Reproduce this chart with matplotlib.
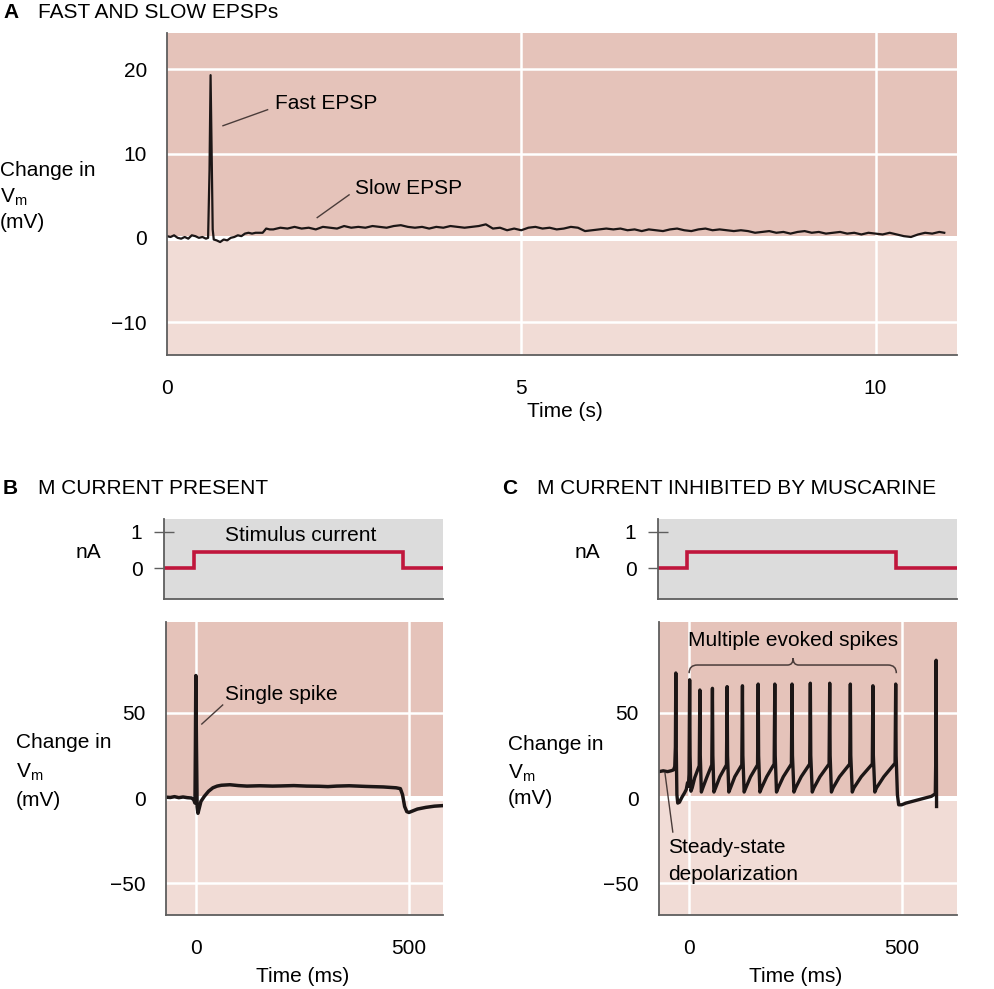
import matplotlib
matplotlib.use("Agg")
import matplotlib.pyplot as plt
from matplotlib.path import Path
from matplotlib.patches import PathPatch
import matplotlib.transforms as mtransforms

plt.rcParams['font.family'] = ['Liberation Sans', 'DejaVu Sans']
plt.rcParams['mathtext.fontset'] = 'custom'
plt.rcParams['mathtext.rm'] = 'Liberation Sans'
plt.rcParams['mathtext.it'] = 'Liberation Sans:italic'

# ---------------- data ----------------
# Panel A: fast and slow EPSP (time in s, change in Vm in mV)
a_time = [0.00, 0.05, 0.10, 0.15, 0.20, 0.25, 0.30, 0.35, 0.40, 0.45, 0.50, 0.55,
          0.58, 0.60, 0.615, 0.63, 0.645, 0.66, 0.70, 0.75, 0.80, 0.85, 0.90, 0.95,
          1.00, 1.05, 1.10, 1.15, 1.20, 1.25, 1.30, 1.35, 1.40, 1.45,
          1.5, 1.6, 1.7, 1.8, 1.9, 2.0, 2.1, 2.2, 2.3, 2.4, 2.5, 2.6, 2.7, 2.8, 2.9,
          3.0, 3.1, 3.2, 3.3, 3.4, 3.5, 3.6, 3.7, 3.8, 3.9, 4.0, 4.1, 4.2, 4.3, 4.4,
          4.5, 4.6, 4.7, 4.8, 4.9, 5.0, 5.1, 5.2, 5.3, 5.4, 5.5, 5.6, 5.7, 5.8, 5.9,
          6.0, 6.1, 6.2, 6.3, 6.4, 6.5, 6.6, 6.7, 6.8, 6.9, 7.0, 7.1, 7.2, 7.3, 7.4,
          7.5, 7.6, 7.7, 7.8, 7.9, 8.0, 8.1, 8.2, 8.3, 8.4, 8.5, 8.6, 8.7, 8.8, 8.9,
          9.0, 9.1, 9.2, 9.3, 9.4, 9.5, 9.6, 9.7, 9.8, 9.9, 10.0, 10.1, 10.2, 10.3,
          10.4, 10.5, 10.6, 10.7, 10.8, 10.9, 10.97]
a_vm = [0.2, 0.1, 0.3, 0.0, -0.1, 0.1, -0.1, 0.3, 0.2, 0.0, 0.1, -0.1,
        0.0, 8.0, 19.3, 10.0, 1.0, -0.2, -0.3, -0.5, -0.2, -0.3, 0.0, 0.1,
        0.3, 0.2, 0.5, 0.6, 0.5, 0.6, 0.6, 0.6, 1.1, 1.0,
        1.0, 1.2, 1.1, 1.3, 1.1, 1.2, 1.0, 1.3, 1.2, 1.1, 1.4, 1.2, 1.3, 1.2, 1.4,
        1.3, 1.2, 1.4, 1.5, 1.3, 1.2, 1.3, 1.1, 1.3, 1.2, 1.4, 1.3, 1.2, 1.3, 1.4,
        1.6, 1.1, 1.2, 0.9, 1.1, 0.9, 1.2, 1.3, 1.1, 1.2, 1.0, 1.1, 1.3, 1.2, 0.8,
        0.9, 1.0, 1.1, 1.0, 1.1, 0.9, 1.0, 0.8, 1.0, 0.9, 0.8, 1.0, 1.1, 0.9, 0.8,
        1.0, 1.1, 0.9, 1.0, 0.9, 0.8, 0.9, 0.8, 0.6, 0.7, 0.8, 0.6, 0.7, 0.5, 0.7,
        0.8, 0.6, 0.7, 0.5, 0.6, 0.7, 0.5, 0.6, 0.4, 0.6, 0.5, 0.4, 0.6, 0.4,
        0.2, 0.1, 0.4, 0.6, 0.5, 0.7, 0.6]

# Stimulus current (ms, nA)
stim_time = [-100, -5, -5, 485, 485, 700]
stim_na = [0, 0, 0.45, 0.45, 0, 0]

# Panel B: M current present (ms, mV)
b_time = [-70, -60, -50, -40, -30, -20, -10, -5, -2, -1, 0, 1.5, 3, 5, 8, 12, 20,
          30, 40, 50, 60, 80, 100, 120, 150, 180, 200, 230, 260, 290, 310, 330,
          360, 400, 440, 470, 480, 485, 490, 495, 500, 510, 520, 540, 560, 578]
b_vm = [0.5, 0.3, 0.8, 0.2, 0.6, 0.2, 0.0, -1.0, -3.0, 30.0, 72.0, 30.0, -5.0,
        -9.0, -6.0, -2.0, 1.0, 4.0, 6.0, 7.0, 7.5, 7.8, 7.3, 7.0, 7.2, 7.0, 7.1,
        7.3, 7.0, 6.9, 6.7, 7.0, 7.2, 6.8, 6.5, 6.0, 5.5, 2.0, -5.0, -8.0, -8.5,
        -7.5, -6.5, -5.5, -4.8, -4.5]

# Panel C: M current inhibited by muscarine (ms, mV)
c_time = [-70, -60, -50, -42, -36, -33, -31.5, -30.5, -29.5, -28, -26, -22, -16,
          -10, -6, -3, -1, 0.5, 2,
          3, 5, 8, 14, 24.5, 26,
          27, 29.5, 33, 42, 54, 55.5,
          56.5, 59, 63, 73, 88.5, 90,
          91, 94, 98, 108, 124.5, 126,
          127, 130, 134, 145, 161.5, 163,
          164, 167, 171, 183, 200.5, 202,
          203, 206, 210, 222, 241, 242.5,
          243.5, 247, 251, 264, 284, 285.5,
          286.5, 290, 294, 308, 329.5, 331,
          332, 335, 339, 354, 378, 379.5,
          380.5, 384, 388, 405, 431, 432.5,
          433.5, 437, 441, 458, 484.5, 486,
          487, 490, 493, 500, 510, 525, 540, 555, 570, 579, 580.5, 581, 581.5, 582]
c_vm = [15.5, 16.0, 15.5, 16.0, 16.5, 18.5, 30.0, 73.5, 30.0, 2.0, -3.0, -2.5, 0.5,
        3.0, 5.0, 9.0, 7.0, 14.0, 69.5,
        25, 4.0, 6.0, 12.0, 19.0, 63.5,
        25, 3.5, 6.0, 12.0, 19.5, 64.5,
        25, 3.5, 6.0, 12.5, 19.5, 65.5,
        25, 3.5, 6.0, 12.5, 19.5, 66.0,
        25, 3.5, 6.0, 12.5, 19.5, 67.0,
        25, 3.5, 6.0, 12.5, 20.0, 67.0,
        25, 3.5, 6.0, 12.5, 20.0, 67.0,
        25, 3.5, 6.0, 12.5, 20.0, 67.5,
        25, 3.5, 6.0, 12.5, 20.0, 67.5,
        25, 3.5, 6.0, 12.5, 20.0, 67.0,
        25, 3.5, 6.0, 12.5, 20.0, 66.0,
        25, 3.5, 6.0, 12.5, 20.5, 67.0,
        25, 2.0, -4.0, -4.0, -3.0, -2.0, -1.0, 0.0, 1.0, 2.5, 30.0, 81.0, 30.0, -5.0]

# ---------------- style ----------------
W, H = 994, 989
DARK = '#e5c3ba'
LIGHT = '#f1dcd6'
GRAY = '#dcdcdc'
RED = '#c0163c'
SPINE = '#5e5e5e'
TRACE = '#1c1616'
LEAD = '#4a3c3a'
FS = 15
TFS = 15

fig = plt.figure(figsize=(W / 100, H / 100), dpi=100)


def rect(l, r, t, b):
    return [l / W, 1 - b / H, (r - l) / W, (b - t) / H]


def ftext(px, py, s, **kw):
    kw.setdefault('fontsize', FS)
    kw.setdefault('va', 'center')
    kw.setdefault('ha', 'left')
    fig.text(px / W, 1 - py / H, s, **kw)


def style_spines(ax):
    for s in ['top', 'right']:
        ax.spines[s].set_visible(False)
    for s in ['left', 'bottom']:
        ax.spines[s].set_color(SPINE)
        ax.spines[s].set_linewidth(1.3)
        ax.spines[s].set_zorder(5)


def trace_axes(r, xlim, ylim, ygrid, xgrid, yticks, xticks):
    ax = fig.add_axes(r)
    ax.set_xlim(xlim)
    ax.set_ylim(ylim)
    ax.set_facecolor('none')
    ax.axhspan(0, ylim[1], color=DARK, zorder=0, lw=0)
    ax.axhspan(ylim[0], 0, color=LIGHT, zorder=0, lw=0)
    for y in ygrid:
        ax.axhline(y, color='white', lw=1.8, zorder=1)
    for x in xgrid:
        ax.axvline(x, color='white', lw=1.8, zorder=1)
    ax.axhline(0, color='white', lw=3.6, zorder=1)
    style_spines(ax)
    ax.set_yticks(yticks)
    ax.set_xticks(xticks)
    ax.tick_params(axis='y', length=0, labelsize=FS, pad=14.5)
    ax.tick_params(axis='x', length=0, labelsize=FS, pad=17)
    return ax


def stim_axes(r, xlim):
    ax = fig.add_axes(r)
    ax.set_xlim(xlim)
    ax.set_ylim(-0.86, 1.36)
    ax.set_facecolor(GRAY)
    style_spines(ax)
    ax.set_xticks([])
    ax.set_yticks([0, 1])
    ax.tick_params(axis='y', direction='inout', length=14, width=1.0,
                   color=SPINE, labelsize=FS, pad=8.5)
    ax.plot(stim_time, stim_na, color=RED, lw=2.6, solid_joinstyle='miter', zorder=3)
    return ax


def ylabel_block(px, ys):
    ftext(px, ys[0], 'Change in')
    ftext(px, ys[1], r'V$_{\mathrm{m}}$')
    ftext(px, ys[2], '(mV)')


def xlabel_at(ax, x, py, s):
    tr = mtransforms.blended_transform_factory(ax.transData, fig.transFigure)
    ax.text(x, 1 - py / H, s, fontsize=FS, ha='center', va='center',
            transform=tr, clip_on=False)


# ---------------- Panel A ----------------
ftext(3, 12, 'A', fontweight='bold', fontsize=TFS)
ftext(38, 12, 'FAST AND SLOW EPSPs', fontsize=TFS)
axA = trace_axes(rect(167, 957, 33, 355), (0, 11.15), (-13.9, 24.3),
                 [20, 10, -10], [5, 10], [-10, 0, 10, 20], [0, 5, 10])
axA.plot(a_time, a_vm, color=TRACE, lw=1.6, zorder=3)
axA.text(1.52, 15.9, 'Fast EPSP', fontsize=FS, va='center', ha='left')
axA.plot([0.79, 1.42], [13.3, 15.2], color=LEAD, lw=1.0, zorder=3)
axA.text(2.65, 5.9, 'Slow EPSP', fontsize=FS, va='center', ha='left')
axA.plot([2.12, 2.57], [2.4, 5.1], color=LEAD, lw=1.0, zorder=3)
ylabel_block(0, [170, 197, 222])
ftext(565, 412, 'Time (s)', ha='center')

# ---------------- Panel B ----------------
ftext(3, 489, 'B', fontweight='bold', fontsize=TFS)
ftext(38, 489, 'M CURRENT PRESENT', fontsize=TFS)
axBs = stim_axes(rect(164, 443, 519, 599), (-75, 580))
axBs.text(68, 0.89, 'Stimulus current', fontsize=FS, va='center', ha='left')
ftext(88, 552, 'nA', ha='center')

axB = trace_axes(rect(166, 443, 622, 915), (-70, 580), (-68.8, 103.5),
                 [50, -50], [0, 500], [-50, 0, 50], [0, 500])
axB.plot(b_time, b_vm, color=TRACE, lw=2.5, zorder=3)
axB.text(68, 60.6, 'Single spike', fontsize=FS, va='center', ha='left')
axB.plot([14, 63], [43.5, 54.7], color=LEAD, lw=1.0, zorder=3)
ylabel_block(16, [743, 772, 800])
xlabel_at(axB, 250, 977, 'Time (ms)')

# ---------------- Panel C ----------------
ftext(502, 489, 'C', fontweight='bold', fontsize=TFS)
ftext(537, 489, 'M CURRENT INHIBITED BY MUSCARINE', fontsize=TFS)
axCs = stim_axes(rect(658, 957, 519, 599), (-73, 629))
ftext(587, 552, 'nA', ha='center')

axC = trace_axes(rect(659, 957, 622, 915), (-70, 630), (-68.8, 103.5),
                 [50, -50], [0, 500], [-50, 0, 50], [0, 500])
axC.plot(c_time, c_vm, color=TRACE, lw=2.4, zorder=3)
axC.text(244, 92.4, 'Multiple evoked spikes', fontsize=FS, va='center', ha='center')
brace = Path([(0.7, 73.4), (0.7, 78.2), (20, 78.2), (232, 78.2),
              (245, 78.2), (245, 82.2), (245, 78.2), (258, 78.2),
              (468, 78.2), (487.5, 78.2), (487.5, 73.4)],
             [Path.MOVETO, Path.CURVE3, Path.CURVE3, Path.LINETO,
              Path.CURVE3, Path.CURVE3, Path.CURVE3, Path.CURVE3,
              Path.LINETO, Path.CURVE3, Path.CURVE3])
axC.add_patch(PathPatch(brace, fill=False, edgecolor=LEAD, lw=1.1, zorder=3))
axC.text(-49, -29.4, 'Steady-state', fontsize=FS, va='center', ha='left')
axC.text(-49, -44.7, 'depolarization', fontsize=FS, va='center', ha='left')
axC.plot([-56, -37.6], [14.7, -20], color=LEAD, lw=1.0, zorder=3)
ylabel_block(508, [745, 773, 798])
xlabel_at(axC, 250, 977, 'Time (ms)')

fig.savefig('out.png', dpi=100)
